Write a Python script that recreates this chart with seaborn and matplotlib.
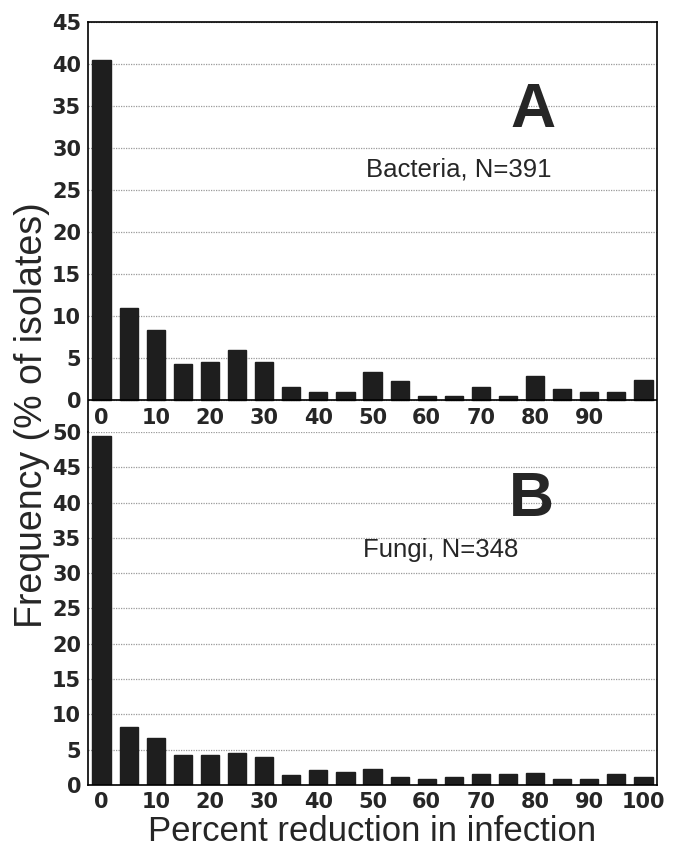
import matplotlib
matplotlib.use("Agg")
import matplotlib.pyplot as plt
import seaborn as sns
import pandas as pd

# Bin start (percent reduction in infection)
bins = list(range(0, 101, 5))

# Frequency (% of isolates)
bacteria = [40.5, 11.0, 8.3, 4.3, 4.5, 5.9, 4.5, 1.5, 0.95, 0.95, 3.3, 2.3, 0.5, 0.5,
            1.5, 0.5, 2.9, 1.3, 1.0, 1.0, 2.35]
fungi = [49.5, 8.2, 6.6, 4.25, 4.25, 4.5, 4.0, 1.4, 2.15, 1.9, 2.2, 1.2, 0.9, 1.2,
         1.5, 1.5, 1.75, 0.9, 0.9, 1.5, 1.2]

ticks_a = ["0", "10", "20", "30", "40", "50", "60", "70", "80", "90"]
ticks_b = ["0", "10", "20", "30", "40", "50", "60", "70", "80", "90", "100"]

df_a = pd.DataFrame({"bin": bins, "freq": bacteria})
df_b = pd.DataFrame({"bin": bins, "freq": fungi})

sns.set_style("white")
plt.rcParams["font.family"] = ["Liberation Sans", "DejaVu Sans"]

fig = plt.figure(figsize=(6.77, 8.49), dpi=100)
ax1 = fig.add_axes([0.130, 0.4912, 0.8405, 0.4829])
ax2 = fig.add_axes([0.130, 0.0754, 0.8405, 0.4158])

bar_color = "#1e1e1e"
grid_kw = dict(linestyle=(0, (1, 1)), color="#9a9a9a", linewidth=0.9)
tick_font = dict(family="DejaVu Sans", weight="bold", size=15)

# Panel A - bacteria
sns.barplot(data=df_a, x="bin", y="freq", color=bar_color, width=0.67,
            saturation=1, edgecolor=bar_color, ax=ax1)
ax1.set_ylim(-3.81, 45)
ax1.set_xlim(-0.5, 20.5)
ax1.set_yticks(range(0, 46, 5))
ax1.set_xticks(range(0, 19, 2))
ax1.set_xticklabels(ticks_a, **tick_font)
ax1.set_yticklabels([str(v) for v in range(0, 46, 5)], **tick_font)
ax1.set_axisbelow(True)
ax1.yaxis.grid(True, **grid_kw)
ax1.axhline(0, color="black", linewidth=1.2, zorder=3)
ax1.spines["bottom"].set_visible(False)
ax1.tick_params(axis="x", length=0, pad=-17.0)
ax1.tick_params(axis="y", length=0, pad=5)
ax1.set_xlabel("")
ax1.set_ylabel("")
ax1.text(15.92, 34.5, "A", ha="center", va="center", fontsize=45, weight="bold")
ax1.text(13.2, 27.4, "Bacteria, N=391", ha="center", va="center", fontsize=18.5)

# Panel B - fungi
sns.barplot(data=df_b, x="bin", y="freq", color=bar_color, width=0.67,
            saturation=1, edgecolor=bar_color, ax=ax2)
ax2.set_ylim(0, 50)
ax2.set_xlim(-0.5, 20.5)
ax2.set_yticks(range(0, 51, 5))
ax2.set_xticks(range(0, 21, 2))
ax2.set_xticklabels(ticks_b, **tick_font)
ax2.set_yticklabels([str(v) for v in range(0, 51, 5)], **tick_font)
ax2.set_axisbelow(True)
ax2.yaxis.grid(True, **grid_kw)
ax2.spines["top"].set_visible(False)
ax2.tick_params(axis="x", length=0, pad=5)
ax2.tick_params(axis="y", length=0, pad=5)
ax2.set_ylabel("")
ax2.set_xlabel("Percent reduction in infection", fontsize=25, labelpad=2)
ax2.text(15.88, 40.4, "B", ha="center", va="center", fontsize=45, weight="bold")
ax2.text(12.5, 33.3, "Fungi, N=348", ha="center", va="center", fontsize=18.5)

for ax in (ax1, ax2):
    for s in ax.spines.values():
        s.set_color("black")
        s.set_linewidth(1.2)

fig.text(0.047, 0.511, "Frequency (% of isolates)", rotation=90,
         ha="center", va="center", fontsize=27)

fig.savefig("out.png", dpi=100)
